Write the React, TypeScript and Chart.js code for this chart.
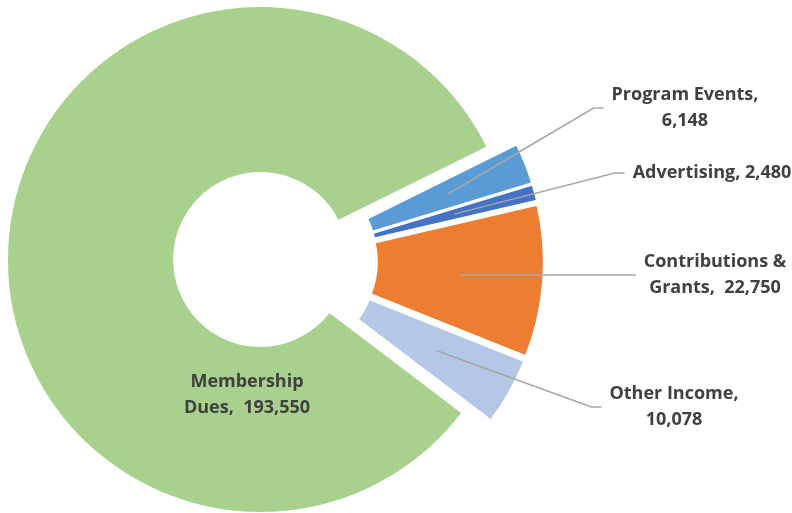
import React, { useEffect, useRef } from "react";
import { Chart, registerables } from "chart.js";

Chart.register(...registerables);

// ---- data ----
const CATEGORIES = ["Membership Dues", "Program Events", "Advertising", "Contributions & Grants", "Other Income"];
const VALUES = [193550, 6148, 2480, 22750, 10078];
const COLORS = ["#A9D18E", "#5B9BD5", "#4472C4", "#ED7D31", "#B4C7E7"];

// ---- layout (not data) ----
const LABEL_BREAKS = [1, 2, 99, 2, 2]; // words on first label line
const EXPLODE_OWN = [0, 12, 12, 12, 12]; // px along each slice's bisector
const EXPLODE_GROUP = [0, 18, 18, 18, 18]; // px along the exploded group's bisector
const LABEL_POS: [number, number][] = [
  [247, 395],
  [685, 108],
  [712, 173],
  [715, 275],
  [674, 407],
];
const FONT = 'bold 18px "Open Sans"';
const LINE_H = 25.5;
const TEXT_COLOR = "#404040";
const LEADER_COLOR = "#A6A6A6";

const fmt = (v: number) => v.toLocaleString("en-US");
const labelLines = (i: number) => {
  const words = `${CATEGORIES[i]}, ${fmt(VALUES[i])}`.split(" ");
  const b = LABEL_BREAKS[i];
  const l1 = words.slice(0, b).join(" ");
  const l2 = words.slice(b).join("  ");
  return l2 ? [l1, l2] : [l1];
};

const explodePlugin = {
  id: "explodeSlices",
  afterDatasetUpdate(chart: any, args: any) {
    const arcs = args.meta.data;
    const grp = arcs.filter((_: any, i: number) => EXPLODE_GROUP[i] > 0);
    let gMid = 0;
    if (grp.length) {
      const s = Math.min(...grp.map((a: any) => a.startAngle));
      const e = Math.max(...grp.map((a: any) => a.endAngle));
      gMid = (s + e) / 2;
    }
    arcs.forEach((a: any, i: number) => {
      const mid = (a.startAngle + a.endAngle) / 2;
      a.x += Math.cos(mid) * EXPLODE_OWN[i] + Math.cos(gMid) * EXPLODE_GROUP[i];
      a.y += Math.sin(mid) * EXPLODE_OWN[i] + Math.sin(gMid) * EXPLODE_GROUP[i];
    });
  },
};

const labelPlugin = {
  id: "sliceLabels",
  afterDatasetsDraw(chart: any) {
    const ctx = chart.ctx as CanvasRenderingContext2D;
    const meta = chart.getDatasetMeta(0);
    ctx.save();
    ctx.font = FONT;
    meta.data.forEach((arc: any, i: number) => {
      const lines = labelLines(i);
      const [cx, my] = LABEL_POS[i];
      const maxW = Math.max(...lines.map((l) => ctx.measureText(l).width));
      const left = cx - maxW / 2;
      const inside = arc.inRange(cx, my);
      if (!inside) {
        const p = arc.getCenterPoint();
        const tailX = left - 8;
        const elbowX = tailX - 10;
        ctx.strokeStyle = LEADER_COLOR;
        ctx.lineWidth = 1.5;
        ctx.beginPath();
        ctx.moveTo(p.x, p.y);
        if (Math.abs(p.y - my) > 3) ctx.lineTo(elbowX, my);
        ctx.lineTo(tailX, my);
        ctx.stroke();
      }
      ctx.fillStyle = TEXT_COLOR;
      ctx.textAlign = "center";
      ctx.textBaseline = "middle";
      lines.forEach((l, k) => {
        ctx.fillText(l, cx, my + (k - (lines.length - 1) / 2) * LINE_H);
      });
    });
    ctx.restore();
  },
};

export default function App() {
  const ref = useRef<HTMLCanvasElement>(null);
  useEffect(() => {
    const chart = new Chart(ref.current!, {
      type: "doughnut",
      data: {
        labels: CATEGORIES,
        datasets: [
          {
            data: VALUES,
            backgroundColor: COLORS,
            borderColor: "#ffffff",
            borderWidth: 2,
          },
        ],
      },
      options: {
        responsive: false,
        animation: false,
        devicePixelRatio: 1,
        rotation: 127.2,
        radius: 253.5,
        cutout: "34.1%",
        events: [],
        layout: { padding: { left: 0, right: 271, top: 6, bottom: 0 } },
        plugins: {
          legend: { display: false },
          tooltip: { enabled: false },
        },
      } as any,
      plugins: [explodePlugin, labelPlugin],
    });
    return () => chart.destroy();
  }, []);
  return (
    <div style={{ position: "fixed", left: 0, top: 0, width: 792, height: 513, background: "#fff" }}>
      <canvas ref={ref} width={792} height={513} style={{ display: "block" }} />
    </div>
  );
}
